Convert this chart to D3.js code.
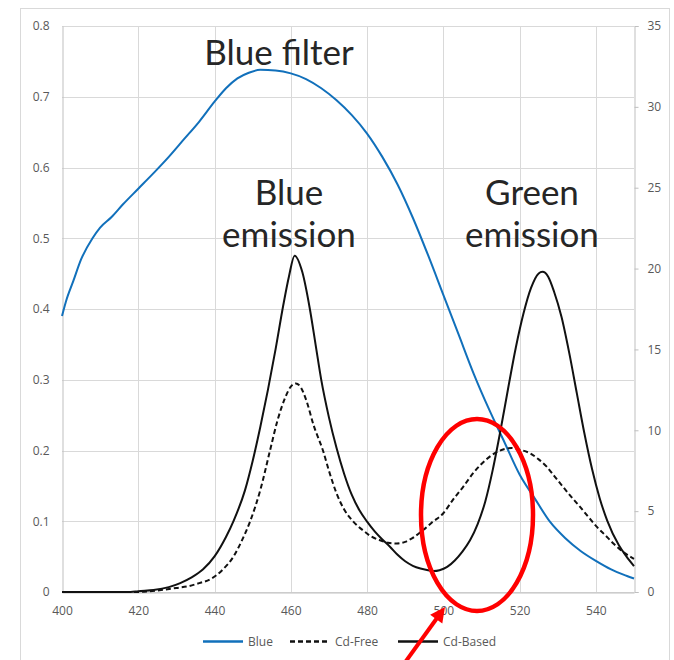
<!DOCTYPE html>
<html>
<head>
<meta charset="utf-8">
<script src="https://cdn.jsdelivr.net/npm/d3@7"></script>
<style>
  html, body { margin: 0; padding: 0; background: #fff; }
  svg { display: block; }
  .tick text { font-family: "Open Sans", "Noto Sans", sans-serif; font-size: 12px; fill: #595959; }
</style>
</head>
<body>
<svg id="chart" width="674" height="660"></svg>
<script>
// ---------- DATA ----------
const xTicks = [400, 420, 440, 460, 480, 500, 520, 540];
const leftTicks = [0, 0.1, 0.2, 0.3, 0.4, 0.5, 0.6, 0.7, 0.8];
const rightTicks = [0, 5, 10, 15, 20, 25, 30, 35];
const seriesNames = ["Blue", "Cd-Free", "Cd-Based"];

// Blue filter transmission (left axis)
const blueWl = [400,401,403,405,408,410,413,416,420,424,428,432,436,440,443,446,449,452,456,460,464,468,472,476,480,484,488,492,496,500,504,508,512,516,520,524,528,532,536,540,544,548,550];
const blueVal = [0.39,0.41,0.44,0.47,0.50,0.515,0.53,0.548,0.57,0.592,0.615,0.64,0.665,0.693,0.712,0.726,0.734,0.738,0.737,0.733,0.725,0.712,0.695,0.674,0.648,0.615,0.576,0.529,0.476,0.42,0.364,0.308,0.258,0.212,0.166,0.132,0.099,0.076,0.058,0.044,0.032,0.023,0.019];

// Cd-Free emission (right axis)
const freeWl = [400,420,423,426,430,433,436,439,442,445,447,449.3,452,454.5,456.5,458.5,460,461.3,462.5,464,466,468.5,470,472,474,476.4,479,481,483.4,485.5,487.8,490,492,494.7,497,500,502.5,505.2,508,511.3,514,517.9,520,522.7,525,527.1,529,531.4,533.5,535.8,538,540.2,542.5,544.6,547,550];
const freeVal = [0,0,0.05,0.12,0.25,0.35,0.55,0.8,1.35,2.2,3.1,4.35,6.3,8.7,10.6,12.0,12.7,12.9,12.7,11.9,10.3,8.7,7.5,6.1,5.1,4.35,3.8,3.45,3.2,3.05,3.0,3.1,3.35,3.83,4.3,4.87,5.7,6.5,7.4,8.2,8.65,8.9,8.8,8.58,8.2,7.75,7.2,6.5,5.9,5.28,4.65,4.04,3.5,3.0,2.5,2.05];

// Cd-Based emission (right axis)
const basedWl = [400,418,420,424,428,431,434,437,440,443,445,448,450,452,454,456,458,459.5,461,463,465,466.5,468,470,472,474,476,478,480,482,484,486,488,490,492,494,496,497.5,499,501,503,505,507,509,511,513,515,517,519,521,523,525,526,527.5,529,531,533,535,537,539,541,543,546,548,550];
const basedVal = [0,0,0.05,0.12,0.3,0.55,0.9,1.4,2.2,3.4,4.4,6.3,8.1,10.2,12.5,15.0,17.7,19.5,20.8,19.8,17.5,15.3,13.1,10.8,8.9,7.3,6.0,5.05,4.35,3.75,3.25,2.8,2.3,1.9,1.62,1.45,1.35,1.3,1.35,1.55,1.95,2.5,3.2,4.2,5.6,7.6,10.0,12.6,15.1,17.2,18.8,19.7,19.8,19.5,18.6,17.0,14.8,12.3,9.8,7.6,5.8,4.4,2.9,2.2,1.6];

// ---------- LAYOUT ----------
const svg = d3.select("#chart");
const L = 62, R = 634, T = 26, B = 592;
const x = d3.scaleLinear().domain([400, 550]).range([L, R]);
const yL = d3.scaleLinear().domain([0, 0.8]).range([B, T]);
const yR = d3.scaleLinear().domain([0, 35]).range([B, T]);

// outer frame
svg.append("rect").attr("x", 20.5).attr("y", 8.5).attr("width", 649).attr("height", 700)
  .attr("fill", "none").attr("stroke", "#d9d9d9").attr("stroke-width", 1);

// gridlines
const grid = svg.append("g").attr("stroke", "#d9d9d9").attr("stroke-width", 1);
leftTicks.forEach(v => {
  grid.append("line").attr("x1", L).attr("x2", R)
    .attr("y1", Math.round(yL(v)) + 0.5).attr("y2", Math.round(yL(v)) + 0.5);
});
xTicks.slice(1).forEach(v => {
  grid.append("line").attr("y1", T).attr("y2", B)
    .attr("x1", Math.round(x(v)) + 0.5).attr("x2", Math.round(x(v)) + 0.5);
});

// axes
const gL = svg.append("g").attr("transform", `translate(${L + 0.5},0)`)
  .call(d3.axisLeft(yL).tickValues(leftTicks).tickSize(0).tickPadding(13).tickFormat(d3.format("~g")));
gL.select(".domain").attr("stroke", "#bfbfbf");

const gR = svg.append("g").attr("transform", `translate(${R + 0.5},0)`)
  .call(d3.axisRight(yR).tickValues(rightTicks).tickSize(4).tickPadding(9).tickFormat(d3.format("d")));
gR.select(".domain").attr("stroke", "#bfbfbf");
gR.selectAll(".tick line").attr("stroke", "#bfbfbf");

const gB = svg.append("g").attr("transform", `translate(0,${B + 0.5})`)
  .call(d3.axisBottom(x).tickValues(xTicks).tickSize(0).tickPadding(14).tickFormat(d3.format("d")));
gB.select(".domain").attr("stroke", "#bfbfbf");

// series
const mk = (wl, val) => wl.map((w, i) => [w, val[i]]);
const lineL = d3.line().x(d => x(d[0])).y(d => yL(d[1])).curve(d3.curveMonotoneX);
const lineR = d3.line().x(d => x(d[0])).y(d => yR(d[1])).curve(d3.curveMonotoneX);

svg.append("path").datum(mk(blueWl, blueVal)).attr("d", lineL)
  .attr("fill", "none").attr("stroke", "#1170bb").attr("stroke-width", 2);
svg.append("path").datum(mk(freeWl, freeVal)).attr("d", lineR)
  .attr("fill", "none").attr("stroke", "#111").attr("stroke-width", 2).attr("stroke-dasharray", "5,3");
svg.append("path").datum(mk(basedWl, basedVal)).attr("d", lineR)
  .attr("fill", "none").attr("stroke", "#111").attr("stroke-width", 2);

// legend
const legend = [
  {name: seriesNames[0], x1: 203, color: "#1170bb", dash: null},
  {name: seriesNames[1], x1: 290, color: "#111", dash: "5,3"},
  {name: seriesNames[2], x1: 398, color: "#111", dash: null}
];
const lg = svg.append("g");
legend.forEach(d => {
  lg.append("line").attr("x1", d.x1).attr("x2", d.x1 + 40).attr("y1", 641.5).attr("y2", 641.5)
    .attr("stroke", d.color).attr("stroke-width", 2.5).attr("stroke-dasharray", d.dash);
  lg.append("text").attr("x", d.x1 + 45).attr("y", 641.5).attr("dy", "0.35em")
    .attr("font-family", '"Open Sans", "Noto Sans", sans-serif').attr("font-size", 12)
    .attr("fill", "#595959").text(d.name);
});

// annotations
const ann = svg.append("g").attr("font-family", "Lato, 'Open Sans', sans-serif")
  .attr("font-size", 35).attr("fill", "#262626").attr("text-anchor", "middle");
ann.append("text").attr("x", 279).attr("y", 65).text("Blue filter");
ann.append("text").attr("x", 289).attr("y", 205).text("Blue");
ann.append("text").attr("x", 289).attr("y", 247).text("emission");
ann.append("text").attr("x", 532).attr("y", 205).text("Green");
ann.append("text").attr("x", 532).attr("y", 247).text("emission");

// red highlight ellipse and arrow
svg.append("ellipse").attr("cx", 477).attr("cy", 515).attr("rx", 56).attr("ry", 96)
  .attr("fill", "none").attr("stroke", "#ff0000").attr("stroke-width", 4.5);

const tip = [445, 607], tail = [401, 668];
const dx = tip[0] - tail[0], dy = tip[1] - tail[1], len = Math.hypot(dx, dy);
const ux = dx / len, uy = dy / len, px = -uy, py = ux;
const headL = 15, headW = 7.5;
const base = [tip[0] - ux * headL, tip[1] - uy * headL];
svg.append("line").attr("x1", tail[0]).attr("y1", tail[1]).attr("x2", base[0] + ux * 2).attr("y2", base[1] + uy * 2)
  .attr("stroke", "#ff0000").attr("stroke-width", 4);
svg.append("path")
  .attr("d", `M${tip[0]},${tip[1]}L${base[0] + px * headW},${base[1] + py * headW}L${base[0] - px * headW},${base[1] - py * headW}Z`)
  .attr("fill", "#ff0000");
</script>
</body>
</html>
